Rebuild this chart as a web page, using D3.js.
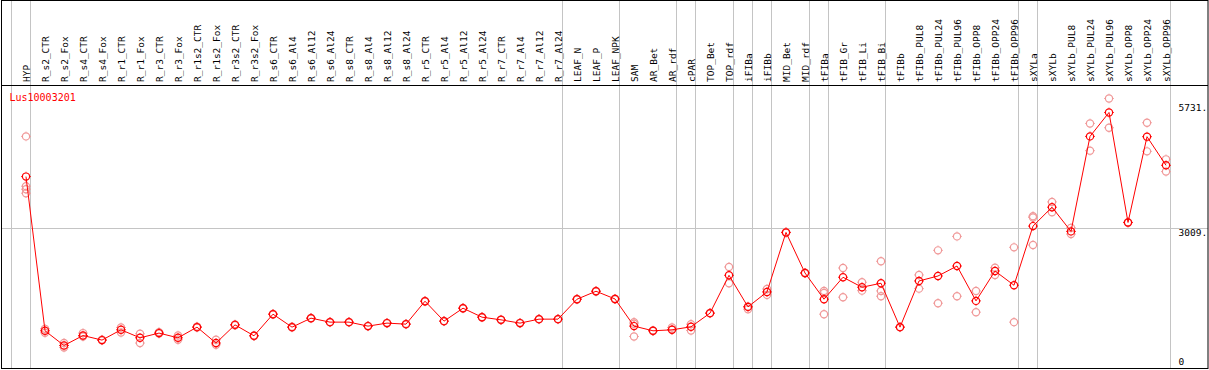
<!DOCTYPE html>
<html>
<head>
<meta charset="utf-8">
<script src="https://cdn.jsdelivr.net/npm/d3@7"></script>
<style>
  body { margin: 0; background: #fff; }
  svg { display: block; }
  text { font-family: "DejaVu Sans Mono", monospace; }
</style>
</head>
<body>
<div id="chart"></div>
<script>
const WIDTH = 1209;
const HEIGHT = 370;

const geneName = "Lus10003201";

const categories = [
  "HYP", "R_s2_CTR", "R_s2_Fox", "R_s4_CTR", "R_s4_Fox", "R_r1_CTR", "R_r1_Fox",
  "R_r3_CTR", "R_r3_Fox", "R_r1s2_CTR", "R_r1s2_Fox", "R_r3s2_CTR", "R_r3s2_Fox",
  "R_s6_CTR", "R_s6_Al4", "R_s6_Al12", "R_s6_Al24", "R_s8_CTR", "R_s8_Al4",
  "R_s8_Al12", "R_s8_Al24", "R_r5_CTR", "R_r5_Al4", "R_r5_Al12", "R_r5_Al24",
  "R_r7_CTR", "R_r7_Al4", "R_r7_Al12", "R_r7_Al24", "LEAF_N", "LEAF_P", "LEAF_NPK",
  "SAM", "AR_Bet", "AR_rdf", "cPAR", "TOP_Bet", "TOP_rdf", "iFIBa", "iFIBb",
  "MID_Bet", "MID_rdf", "tFIBa", "tFIB_Gr", "tFIB_Li", "tFIB_Bi", "tFIBb",
  "tFIBb_PUL8", "tFIBb_PUL24", "tFIBb_PUL96", "tFIBb_OPP8", "tFIBb_OPP24", "tFIBb_OPP96",
  "sXYLa", "sXYLb", "sXYLb_PUL8", "sXYLb_PUL24", "sXYLb_PUL96", "sXYLb_OPP8",
  "sXYLb_OPP24", "sXYLb_OPP96"
];

// mean expression per sample
const means = [
  4105, 810, 496, 709, 611, 831, 660,
  761, 660, 888, 548, 937, 703,
  1165, 888, 1080, 995, 995, 910,
  974, 952, 1442, 1016, 1293, 1101,
  1044, 974, 1059, 1059, 1485, 1655, 1490,
  910, 810, 831, 895, 1187, 1996, 1321, 1640,
  2912, 2045, 1485, 1954, 1741, 1826, 888,
  1875, 1981, 2194, 1449, 2088, 1783,
  3047, 3451, 2934, 4964, 5475, 3125,
  4958, 4346
];

// individual replicates per sample
const replicates = [
  [4964, 3899, 3835, 3750], [852, 767], [548, 454], [761, 688], [620, 605], [880, 773], [746, 548],
  [782, 750], [709, 618], [900, 880], [618, 511], [945, 930], [710, 698],
  [1170, 1160], [895, 882], [1085, 1075], [1000, 990], [1000, 990], [915, 905],
  [980, 970], [958, 948], [1448, 1437], [1020, 1012], [1298, 1288], [1106, 1096],
  [1050, 1040], [980, 970], [1064, 1054], [1064, 1054], [1490, 1480], [1660, 1650], [1495, 1485],
  [995, 688, 959], [815, 805], [880, 836], [952, 816], [1192, 1182], [2173, 1826], [1272, 1330], [1704, 1577],
  [2918, 2906], [2050, 2040], [1662, 1619, 1165], [2152, 1528], [1847, 1668], [2295, 1662, 1549], [893, 883],
  [2003, 1711], [2529, 1400], [2827, 1549], [1662, 1208], [2158, 2003], [2593, 995],
  [3260, 3232, 2642], [3564, 3345], [3010, 2876], [5241, 4659], [5774, 5149], [3130, 3120],
  [5256, 4644], [4474, 4212]
];

// column groups end after these samples
const groupEnds = [
  "HYP", "R_r7_Al24", "LEAF_NPK", "AR_rdf", "cPAR", "TOP_rdf", "iFIBa", "iFIBb",
  "MID_rdf", "tFIBa", "tFIB_Bi", "tFIBb_OPP96", "sXYLa", "sXYLb_OPP96"
];

const yMax = 5731;
const yTicks = [0, 3009.5, 5731];
const yTickLabels = ["0", "3009.", "5731."];

const RED = "#ff0000";
const PALE = "#f09898";
const GRID = "#c4c4c4";

const svg = d3.select("#chart").append("svg")
  .attr("xmlns", "http://www.w3.org/2000/svg")
  .attr("width", WIDTH)
  .attr("height", HEIGHT);

const x = d3.scalePoint()
  .domain(categories)
  .range([26, 26 + 19 * (categories.length - 1)]);

const y = d3.scaleLinear()
  .domain([0, yMax])
  .range([368.7, 100.5]);

const g = svg.append("g");

// grid
g.append("line")
  .attr("x1", 1).attr("x2", 1208)
  .attr("y1", Math.round(y(3009.5)) + 0.5).attr("y2", Math.round(y(3009.5)) + 0.5)
  .style("stroke", GRID);

g.append("line")
  .attr("x1", x(categories[0]) - 14.5).attr("x2", x(categories[0]) - 14.5)
  .attr("y1", 0).attr("y2", 369)
  .style("stroke", GRID);

g.selectAll(".vgrid")
  .data(groupEnds)
  .enter().append("line")
  .attr("class", "vgrid")
  .attr("x1", (d) => x(d) + 4.5).attr("x2", (d) => x(d) + 4.5)
  .attr("y1", 0).attr("y2", 369)
  .style("stroke", GRID);

// frame + header separator
g.append("rect")
  .attr("x", 1.5).attr("y", 0.5)
  .attr("width", 1206.5).attr("height", 368)
  .style("fill", "none")
  .style("stroke", "#000");

g.append("line")
  .attr("x1", 1).attr("x2", 1208)
  .attr("y1", 85.5).attr("y2", 85.5)
  .style("stroke", "#000");

// column labels
g.selectAll(".collabel")
  .data(categories)
  .enter().append("text")
  .attr("class", "collabel")
  .attr("transform", (d) => `translate(${x(d) + 3.5}, 82) rotate(-90)`)
  .style("font-size", "9.5px")
  .style("fill", "#000")
  .text((d) => d);

// y labels
const labelOffset = [-4, 8, 10];
g.selectAll(".ylabel")
  .data(yTicks)
  .enter().append("text")
  .attr("class", "ylabel")
  .attr("x", 1178.5)
  .attr("y", (d, i) => y(d) + labelOffset[i])
  .style("font-size", "9.5px")
  .style("fill", "#000")
  .text((d, i) => yTickLabels[i]);

g.append("text")
  .attr("x", 9.5)
  .attr("y", 101)
  .style("font-size", "10px")
  .style("fill", RED)
  .text(geneName);

function marker(sel, color) {
  sel.append("circle")
    .attr("r", 3.6)
    .style("fill", "none")
    .style("stroke", color)
    .style("stroke-width", 1.2);
  sel.append("path")
    .attr("d", "M0,-4.8V-4M0,4V4.8M-4.8,0H-4M4,0H4.8")
    .style("stroke", color)
    .style("stroke-width", 1);
}

// replicates
const reps = [];
replicates.forEach((vals, i) => vals.forEach((v) => reps.push({ c: categories[i], v })));

g.selectAll(".rep")
  .data(reps)
  .enter().append("g")
  .attr("class", "rep")
  .attr("transform", (d) => `translate(${x(d.c)}, ${y(d.v)})`)
  .call(marker, PALE);

// mean line
const line = d3.line()
  .x((d, i) => x(categories[i]))
  .y((d) => y(d));

g.append("path")
  .attr("d", line(means))
  .style("fill", "none")
  .style("stroke", RED)
  .style("stroke-width", 1);

g.selectAll(".mean")
  .data(means)
  .enter().append("g")
  .attr("class", "mean")
  .attr("transform", (d, i) => `translate(${x(categories[i])}, ${y(d)})`)
  .call(marker, RED);
</script>
</body>
</html>
